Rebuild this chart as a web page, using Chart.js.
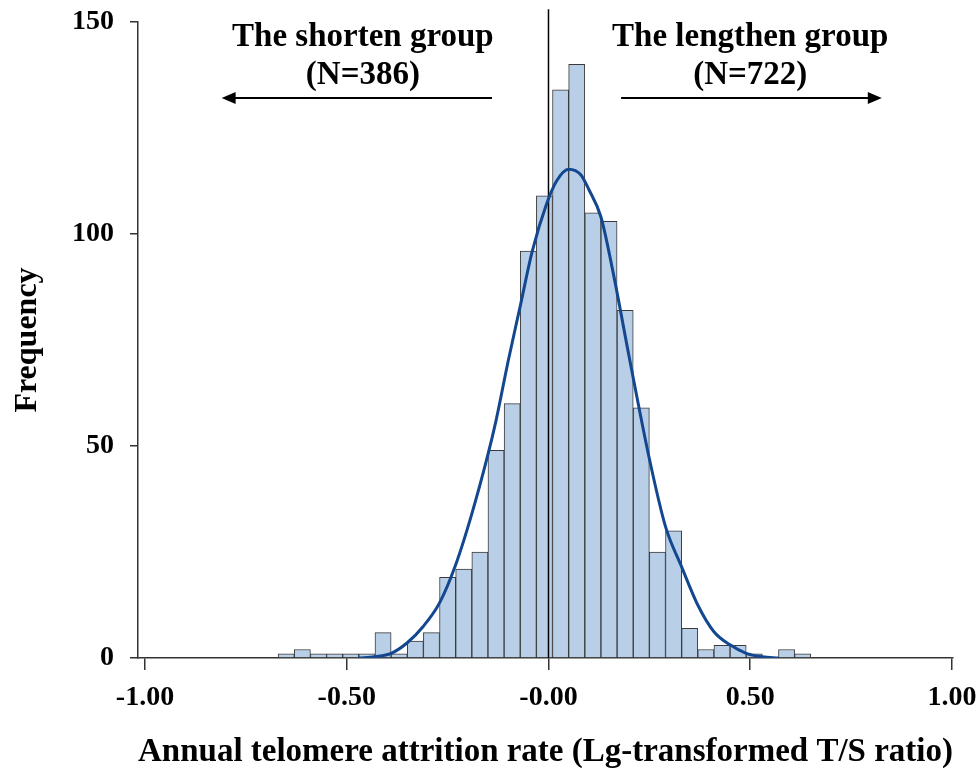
<!DOCTYPE html>
<html>
<head>
<meta charset="utf-8">
<script src="https://cdn.jsdelivr.net/npm/chart.js@4.4.1/dist/chart.umd.min.js"></script>
<style>
  html, body { margin: 0; padding: 0; background: #fff; }
</style>
</head>
<body>
<canvas id="histChart" width="978" height="770"></canvas>
<script>
// histogram bins (bin width 0.04)
const binCenters = [-0.65, -0.61, -0.57, -0.53, -0.49, -0.45, -0.41, -0.37, -0.33, -0.29, -0.25,
                    -0.21, -0.17, -0.13, -0.09, -0.05, -0.01, 0.03, 0.07, 0.11, 0.15, 0.19,
                    0.23, 0.27, 0.31, 0.35, 0.39, 0.43, 0.47, 0.51, 0.55, 0.59, 0.63];
const binCounts = [1, 2, 1, 1, 1, 1, 6, 1, 4, 6, 19,
                   21, 25, 49, 60, 96, 109, 134, 140, 105, 103, 82,
                   59, 25, 30, 7, 2, 3, 3, 1, 0, 2, 1];

// fitted normal curve
const curveX = [-0.47, -0.43, -0.39, -0.35, -0.31, -0.27, -0.23, -0.19, -0.15, -0.13, -0.10, -0.07,
                -0.04, -0.005, 0.02, 0.05, 0.08, 0.10, 0.13, 0.16, 0.20, 0.25, 0.29, 0.33, 0.37,
                0.41, 0.45, 0.49, 0.53, 0.57];
const curveY = [0, 0.3, 1.1, 3.6, 7.5, 13, 22, 34, 48, 56, 70, 83,
                96, 107, 112.5, 115.3, 114, 110.5, 104, 91, 71, 47, 31, 21.5, 12.5,
                6.2, 3.1, 1.1, 0.3, 0];

const zeroLineX = [0, 0];
const zeroLineY = [0, 153];

const xTickValues = [-1, -0.5, 0, 0.5, 1];
const xTickLabels = ['-1.00', '-0.50', '-0.00', '0.50', '1.00'];
const yTickValues = [0, 50, 100, 150];

const groupText = [
    ['The shorten group', '(N=386)'],
    ['The lengthen group', '(N=722)']
];

const serif = "'Liberation Serif', 'Times New Roman', serif";

// arrows + group labels above the bars
const groupLabels = {
    id: 'groupLabels',
    afterDraw(chart) {
        const c = chart.ctx;
        const xs = chart.scales.x;
        const top = chart.chartArea.top;
        c.save();
        c.fillStyle = '#000';
        c.strokeStyle = '#000';
        c.font = 'bold 33px ' + serif;
        c.textAlign = 'center';
        c.textBaseline = 'middle';

        const centers = [xs.getPixelForValue(-0.46), xs.getPixelForValue(0.50)];
        groupText.forEach((lines, i) => {
            c.fillText(lines[0], centers[i], top + 15);
            c.fillText(lines[1], centers[i], top + 53);
        });

        const ay = top + 76;
        const arrows = [[-0.14, -0.81], [0.18, 0.826]];
        c.lineWidth = 2;
        arrows.forEach(([from, to]) => {
            const x0 = xs.getPixelForValue(from);
            const x1 = xs.getPixelForValue(to);
            const dir = Math.sign(x1 - x0);
            c.beginPath();
            c.moveTo(x0, ay);
            c.lineTo(x1 - dir * 4, ay);
            c.stroke();
            c.beginPath();
            c.moveTo(x1, ay);
            c.lineTo(x1 - dir * 14, ay - 6);
            c.lineTo(x1 - dir * 14, ay + 6);
            c.closePath();
            c.fill();
        });
        c.restore();
    }
};

const ctx = document.getElementById('histChart').getContext('2d');
const histChart = new Chart(ctx, {
    type: 'bar',
    data: {
        datasets: [{
            type: 'line',
            data: zeroLineX.map((x, i) => ({ x: x, y: zeroLineY[i] })),
            borderColor: '#000',
            borderWidth: 1.5,
            pointRadius: 0,
            clip: false,
            order: 2
        }, {
            type: 'line',
            data: curveX.map((x, i) => ({ x: x, y: curveY[i] })),
            borderColor: '#13478f',
            borderWidth: 3,
            pointRadius: 0,
            cubicInterpolationMode: 'monotone',
            order: 1
        }, {
            label: 'Frequency',
            data: binCenters.map((x, i) => ({ x: x, y: binCounts[i] })),
            backgroundColor: '#b9cfe8',
            borderColor: '#3a3a3a',
            borderWidth: 1,
            barPercentage: 1,
            categoryPercentage: 1,
            order: 3
        }]
    },
    options: {
        responsive: false,
        animation: false,
        devicePixelRatio: 1,
        layout: { padding: { left: 0, top: 22, right: 25, bottom: 0 } },
        plugins: {
            legend: { display: false },
            tooltip: { enabled: false }
        },
        scales: {
            x: {
                type: 'linear',
                offset: false,
                min: -1.0173,
                max: 1.0025,
                afterBuildTicks: s => { s.ticks = xTickValues.map(v => ({ value: v })); },
                afterFit: s => {
                    s.height = 112;
                    s.paddingLeft = 0;
                    s.paddingRight = 0;
                },
                grid: { offset: false, drawOnChartArea: false, drawTicks: true, tickLength: 12, color: '#333', lineWidth: 1.5 },
                border: { display: true, color: '#333', width: 1.5 },
                ticks: {
                    padding: 11,
                    maxRotation: 0,
                    autoSkip: false,
                    color: '#000',
                    font: { family: serif, size: 28, weight: 'bold' },
                    callback: (v, i) => xTickLabels[i]
                },
                title: {
                    display: true,
                    text: 'Annual telomere attrition rate (Lg-transformed T/S ratio)',
                    color: '#000',
                    font: { family: serif, size: 34, weight: 'bold' },
                    padding: { top: 0, bottom: -3 }
                }
            },
            y: {
                min: 0,
                max: 150,
                afterBuildTicks: s => { s.ticks = yTickValues.map(v => ({ value: v })); },
                afterFit: s => {
                    s.width = 138;
                    s.paddingTop = 0;
                    s.paddingBottom = 0;
                },
                grid: { drawOnChartArea: false, drawTicks: true, tickLength: 8, color: '#333', lineWidth: 1.5 },
                border: { display: true, color: '#333', width: 1.5 },
                ticks: {
                    padding: 16,
                    color: '#000',
                    font: { family: serif, size: 28, weight: 'bold' }
                },
                title: {
                    display: true,
                    text: 'Frequency',
                    color: '#000',
                    font: { family: serif, size: 32, weight: 'bold' },
                    padding: { top: 9, bottom: 0 }
                }
            }
        }
    },
    plugins: [groupLabels]
});
</script>
</body>
</html>
